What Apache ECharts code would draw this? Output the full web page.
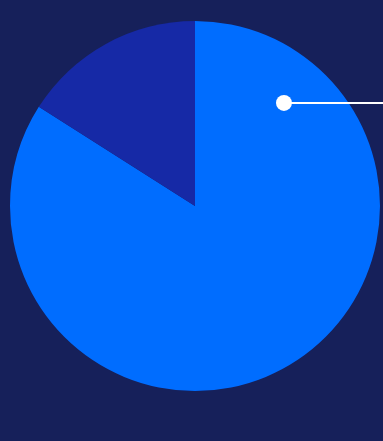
<!DOCTYPE html>
<html>
<head>
<meta charset="utf-8">
<script src="https://cdn.jsdelivr.net/npm/echarts@6/dist/echarts.min.js"></script>
<style>
html,body{margin:0;padding:0;background:#16205a;}
#chart{width:383px;height:441px;}
</style>
</head>
<body>
<div id="chart"></div>
<script>
var categories = ['Main', 'Other'];
var values = [84, 16];
var colors = ['#006dff', '#1629a6'];

var cx = 195, cy = 206, R = 185;
// annotation pointer inside main slice (angle clockwise from 12 o'clock, fraction of radius)
var annAngle = 40.8 * Math.PI / 180, annFrac = 0.736;
var dotX = cx + Math.sin(annAngle) * R * annFrac;
var dotY = cy - Math.cos(annAngle) * R * annFrac;

var chart = echarts.init(document.getElementById('chart'), null, {renderer: 'canvas'});
chart.setOption({
  backgroundColor: '#16205a',
  animation: false,
  series: [{
    type: 'pie',
    center: [cx, cy],
    radius: [0, R],
    startAngle: 90,
    clockwise: true,
    label: {show: false},
    labelLine: {show: false},
    emphasis: {disabled: true},
    itemStyle: {borderWidth: 0},
    data: categories.map(function (c, i) {
      return {name: c, value: values[i], itemStyle: {color: colors[i]}};
    })
  }],
  graphic: [
    {type: 'line', shape: {x1: dotX, y1: dotY, x2: 383, y2: dotY}, style: {stroke: '#ffffff', lineWidth: 2}, z: 10},
    {type: 'circle', shape: {cx: dotX, cy: dotY, r: 8}, style: {fill: '#ffffff'}, z: 11}
  ]
});
</script>
</body>
</html>
